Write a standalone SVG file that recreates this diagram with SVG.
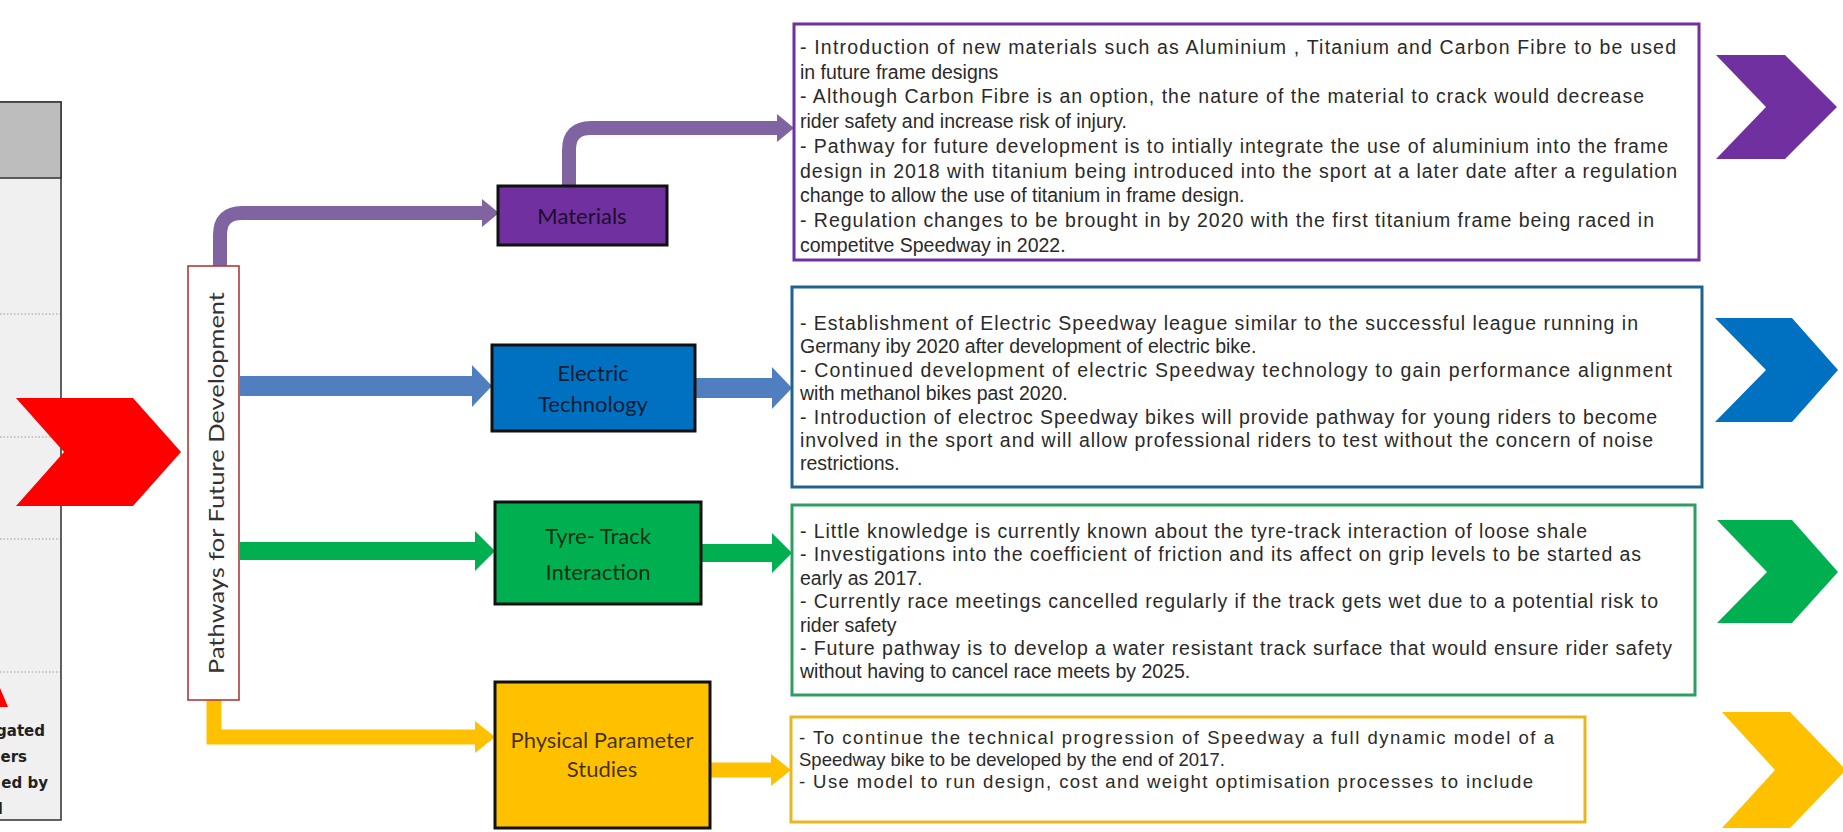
<svg xmlns="http://www.w3.org/2000/svg" width="1843" height="832" viewBox="0 0 1843 832">
<style>
.tb{font-family:"Liberation Sans",Arial,sans-serif;font-size:19.5px;fill:#2a2a2a}
.tbs{font-family:"Liberation Sans",Arial,sans-serif;font-size:18.5px;fill:#2a2a2a}
.nl{font-family:Lato,"Open Sans",sans-serif;font-size:22px;fill:#000;fill-opacity:0.75;text-anchor:middle}
.node{stroke:#111;stroke-width:3}
.conn{fill:none}
.dot{stroke:#9a9a9a;stroke-width:1.2;stroke-dasharray:1.5 2}
</style>
<defs>
<marker id="hP" markerUnits="userSpaceOnUse" markerWidth="17" markerHeight="28" refX="0" refY="14" orient="auto"><path d="M0,0 L17,14 L0,28 Z" fill="#8064a2"/></marker>
<marker id="hB" markerUnits="userSpaceOnUse" markerWidth="20" markerHeight="42" refX="0" refY="21" orient="auto"><path d="M0,0 L20,21 L0,42 Z" fill="#4f7fbf"/></marker>
<marker id="hG" markerUnits="userSpaceOnUse" markerWidth="20" markerHeight="40" refX="0" refY="20" orient="auto"><path d="M0,0 L20,20 L0,40 Z" fill="#00b050"/></marker>
<marker id="hY" markerUnits="userSpaceOnUse" markerWidth="20" markerHeight="32" refX="0" refY="16" orient="auto"><path d="M0,0 L20,16 L0,32 Z" fill="#ffc000"/></marker>
</defs>
<rect width="1843" height="832" fill="#fff"/>

<g id="table">
<rect x="-2" y="102" width="63" height="718" fill="#f0f0f0" stroke="#3a3a3a" stroke-width="1.6"/>
<rect x="-2" y="102" width="63" height="76" fill="#bdbdbd" stroke="#3a3a3a" stroke-width="1.6"/>
<line class="dot" x1="0" y1="314" x2="60" y2="314"/>
<line class="dot" x1="0" y1="437" x2="60" y2="437"/>
<line class="dot" x1="0" y1="539" x2="60" y2="539"/>
<line class="dot" x1="0" y1="672" x2="60" y2="672"/>
<polygon points="0,688 8,707 0,707" fill="#ff0000"/>
<g font-family="'DejaVu Sans',sans-serif" font-size="15" fill="#222" text-anchor="end" font-weight="bold">
<text x="45" y="736">gated</text>
<text x="27" y="762">ers</text>
<text x="48" y="788">ed by</text>
<text x="3" y="814">l</text>
</g>
</g>

<g id="red-chevron">
<polygon points="16,398 133,398 181,452 133,506 16,506 64,452" fill="#ff0000"/>
</g>

<g id="connectors" class="conn">
<path d="M220,266 V235 Q220,213 242,213 H482" stroke="#8064a2" stroke-width="14" marker-end="url(#hP)"/>
<path d="M569,186 V150 Q569,128 591,128 H777" stroke="#8064a2" stroke-width="14" marker-end="url(#hP)"/>
<path d="M240,386 H472" stroke="#4f7fbf" stroke-width="20" marker-end="url(#hB)"/>
<path d="M695,388 H772" stroke="#4f7fbf" stroke-width="20" marker-end="url(#hB)"/>
<path d="M240,551 H475" stroke="#00b050" stroke-width="18" marker-end="url(#hG)"/>
<path d="M701,553 H772" stroke="#00b050" stroke-width="18" marker-end="url(#hG)"/>
<path d="M214,700 V737 H475" stroke="#ffc000" stroke-width="15" stroke-linejoin="miter" marker-end="url(#hY)"/>
<path d="M710,770 H771" stroke="#ffc000" stroke-width="15" marker-end="url(#hY)"/>
</g>

<g id="pathways">
<rect x="188" y="266" width="51" height="434" fill="#fff" stroke="#b03a3a" stroke-width="1.6"/>
<text transform="translate(215,483) rotate(-90)" text-anchor="middle" dominant-baseline="central" font-family="Lato,'Open Sans',sans-serif" font-size="21" fill="#333" textLength="382" lengthAdjust="spacingAndGlyphs">Pathways for Future Development</text>
</g>

<g id="materials">
<rect class="node" x="498" y="186" width="169" height="59" fill="#7030a0"/>
<text class="nl" x="582" y="224">Materials</text>
</g>
<g id="electric">
<rect class="node" x="492" y="345" width="203" height="86" fill="#0070c0"/>
<text class="nl" x="593" y="381">Electric</text>
<text class="nl" x="593" y="412">Technology</text>
</g>
<g id="tyre">
<rect class="node" x="495" y="502" width="206" height="102" fill="#00b050"/>
<text class="nl" x="598" y="544">Tyre- Track</text>
<text class="nl" x="598" y="580">Interaction</text>
</g>
<g id="physical">
<rect class="node" x="495" y="682" width="215" height="146" fill="#ffc000"/>
<text class="nl" x="602" y="748" font-size="21">Physical Parameter</text>
<text class="nl" x="602" y="777" font-size="21">Studies</text>
</g>

<g id="materials-text">
<rect x="794" y="24" width="905" height="236" fill="#fff" stroke="#7030a0" stroke-width="3"/>
<text class="tb" x="800" y="54" textLength="876" lengthAdjust="spacing">- Introduction  of new materials   such as Aluminium  , Titanium  and Carbon  Fibre  to be used</text>
<text class="tb" x="800" y="79">in  future frame designs</text>
<text class="tb" x="800" y="103" textLength="844" lengthAdjust="spacing">- Although  Carbon  Fibre is an option,  the nature of the material  to crack would decrease</text>
<text class="tb" x="800" y="128">rider safety and increase risk of injury.</text>
<text class="tb" x="800" y="153" textLength="868" lengthAdjust="spacing">- Pathway for future development  is to intially  integrate the use of aluminium  into the frame</text>
<text class="tb" x="800" y="178" textLength="877" lengthAdjust="spacing">design in 2018 with titanium  being  introduced  into the sport at a later date after a regulation</text>
<text class="tb" x="800" y="202">change to allow the use of titanium  in frame design.</text>
<text class="tb" x="800" y="227" textLength="854" lengthAdjust="spacing">- Regulation  changes to be brought in by 2020 with the first titanium  frame being raced in</text>
<text class="tb" x="800" y="252">competitve  Speedway in 2022.</text>
</g>
<g id="purple-chevron">
<polygon points="1716,55 1785,55 1837,107 1785,159 1716,159 1766,107" fill="#7030a0"/>
</g>

<g id="electric-text">
<rect x="792" y="287" width="910" height="200" fill="#fff" stroke="#1f6391" stroke-width="3"/>
<text class="tb" x="800" y="330" textLength="838" lengthAdjust="spacing">- Establishment  of Electric  Speedway league  similar  to the successful league  running  in</text>
<text class="tb" x="800" y="353">Germany  iby 2020 after development  of electric bike.</text>
<text class="tb" x="800" y="377" textLength="872" lengthAdjust="spacing">- Continued  development  of electric  Speedway technology  to gain  performance alignment</text>
<text class="tb" x="800" y="400">with methanol  bikes past 2020.</text>
<text class="tb" x="800" y="424" textLength="857" lengthAdjust="spacing">- Introduction  of electroc Speedway bikes  will provide pathway for young riders to become</text>
<text class="tb" x="800" y="447" textLength="853" lengthAdjust="spacing">involved  in the sport and  will allow professional riders to test without the concern of noise</text>
<text class="tb" x="800" y="470">restrictions.</text>
</g>
<g id="blue-chevron">
<polygon points="1715,318 1792,318 1838,370 1792,422 1715,422 1766,370" fill="#0070c0"/>
</g>

<g id="tyre-text">
<rect x="792" y="505" width="903" height="190" fill="#fff" stroke="#2e9e62" stroke-width="3"/>
<text class="tb" x="800" y="538" textLength="787" lengthAdjust="spacing">- Little  knowledge is currently known about  the tyre-track interaction  of loose shale</text>
<text class="tb" x="800" y="561" textLength="841" lengthAdjust="spacing">- Investigations  into the  coefficient of friction and its affect on grip levels to be started as</text>
<text class="tb" x="800" y="585">early as 2017.</text>
<text class="tb" x="800" y="608" textLength="858" lengthAdjust="spacing">- Currently  race meetings  cancelled  regularly  if the track gets wet due to a potential  risk to</text>
<text class="tb" x="800" y="632">rider safety</text>
<text class="tb" x="800" y="655" textLength="872" lengthAdjust="spacing">- Future  pathway is to develop  a  water resistant track surface that  would ensure rider safety</text>
<text class="tb" x="800" y="678">without having to cancel race meets by 2025.</text>
</g>
<g id="green-chevron">
<polygon points="1717,520 1792,520 1838,572 1792,623 1717,623 1767,572" fill="#00b050"/>
</g>

<g id="physical-text">
<rect x="791" y="717" width="794" height="105" fill="#fff" stroke="#e8b720" stroke-width="3"/>
<text class="tbs" x="799" y="744" textLength="755" lengthAdjust="spacing">- To continue  the technical progression of Speedway  a full dynamic  model  of a</text>
<text class="tbs" x="799" y="766">Speedway bike  to be developed  by  the end of 2017.</text>
<text class="tbs" x="799" y="788" textLength="734" lengthAdjust="spacing">- Use model  to run design, cost and weight optimisation  processes to include</text>
</g>
<g id="yellow-chevron">
<polygon points="1722,712 1790,712 1846,770 1790,828 1722,828 1775,770" fill="#ffc000"/>
</g>
</svg>
